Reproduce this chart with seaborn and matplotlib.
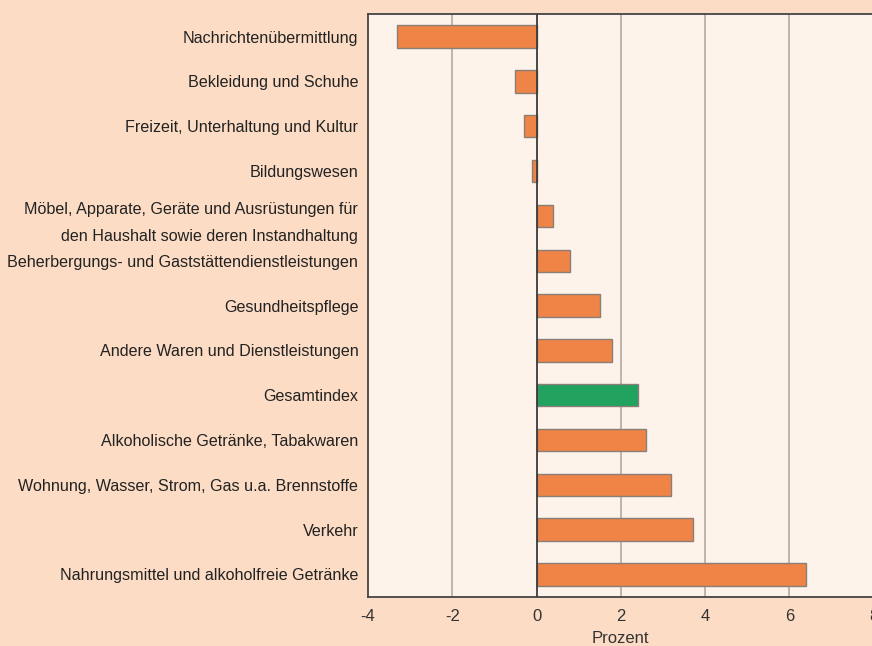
import pandas as pd
import matplotlib
matplotlib.use("Agg")
import matplotlib.pyplot as plt
import seaborn as sns

categories = [
    "Nachrichtenübermittlung",
    "Bekleidung und Schuhe",
    "Freizeit, Unterhaltung und Kultur",
    "Bildungswesen",
    "Möbel, Apparate, Geräte und Ausrüstungen für\nden Haushalt sowie deren Instandhaltung",
    "Beherbergungs- und Gaststättendienstleistungen",
    "Gesundheitspflege",
    "Andere Waren und Dienstleistungen",
    "Gesamtindex",
    "Alkoholische Getränke, Tabakwaren",
    "Wohnung, Wasser, Strom, Gas u.a. Brennstoffe",
    "Verkehr",
    "Nahrungsmittel und alkoholfreie Getränke",
]
values = [-3.3, -0.5, -0.3, -0.1, 0.4, 0.8, 1.5, 1.8, 2.4, 2.6, 3.2, 3.7, 6.4]
kind = ["Gruppe"] * 8 + ["Gesamt"] + ["Gruppe"] * 4
xticks = [-4, -2, 0, 2, 4, 6, 8]

df = pd.DataFrame({"Kategorie": categories, "Prozent": values, "Art": kind})

sns.set_style("white")
plt.rcParams["font.family"] = ["Liberation Sans", "DejaVu Sans"]

fig = plt.figure(figsize=(8.72, 6.46), dpi=100, facecolor="#FCDCC4")
ax = fig.add_axes([0.422, 0.076, 0.580, 0.902])
ax.set_facecolor("#FEF3EA")

sns.barplot(data=df, y="Kategorie", x="Prozent", hue="Art",
            palette={"Gruppe": "#EF8446", "Gesamt": "#21A35F"},
            saturation=1, orient="h", width=0.5, edgecolor="#8A7F78",
            linewidth=1.0, legend=False, ax=ax, zorder=3)

ax.set_xlim(-4, 8)
ax.set_ylim(12.5, -0.5)
ax.set_xticks(xticks)
ax.set_xticklabels([str(t) for t in xticks], fontsize=12, color="#333333")
for t in [-2, 2, 4, 6]:
    ax.axvline(t, color="#B3AAA3", linewidth=1.2, zorder=1)
ax.axvline(0, color="#3A3A3A", linewidth=1.3, zorder=4)

ax.tick_params(axis="x", direction="out", length=5, width=1.2, color="#444444", pad=4)
ax.tick_params(axis="y", length=0, pad=7)
for lbl in ax.get_yticklabels():
    lbl.set_fontsize(11.6)
    lbl.set_color("#222222")
    lbl.set_linespacing(1.95)

for s in ["left", "bottom", "top"]:
    ax.spines[s].set_color("#444444")
    ax.spines[s].set_linewidth(1.3)
ax.spines["right"].set_visible(False)

ax.set_ylabel("")
ax.set_xlabel("Prozent", fontsize=12, color="#333333", labelpad=5)

fig.savefig("out.png", dpi=100, facecolor=fig.get_facecolor())
